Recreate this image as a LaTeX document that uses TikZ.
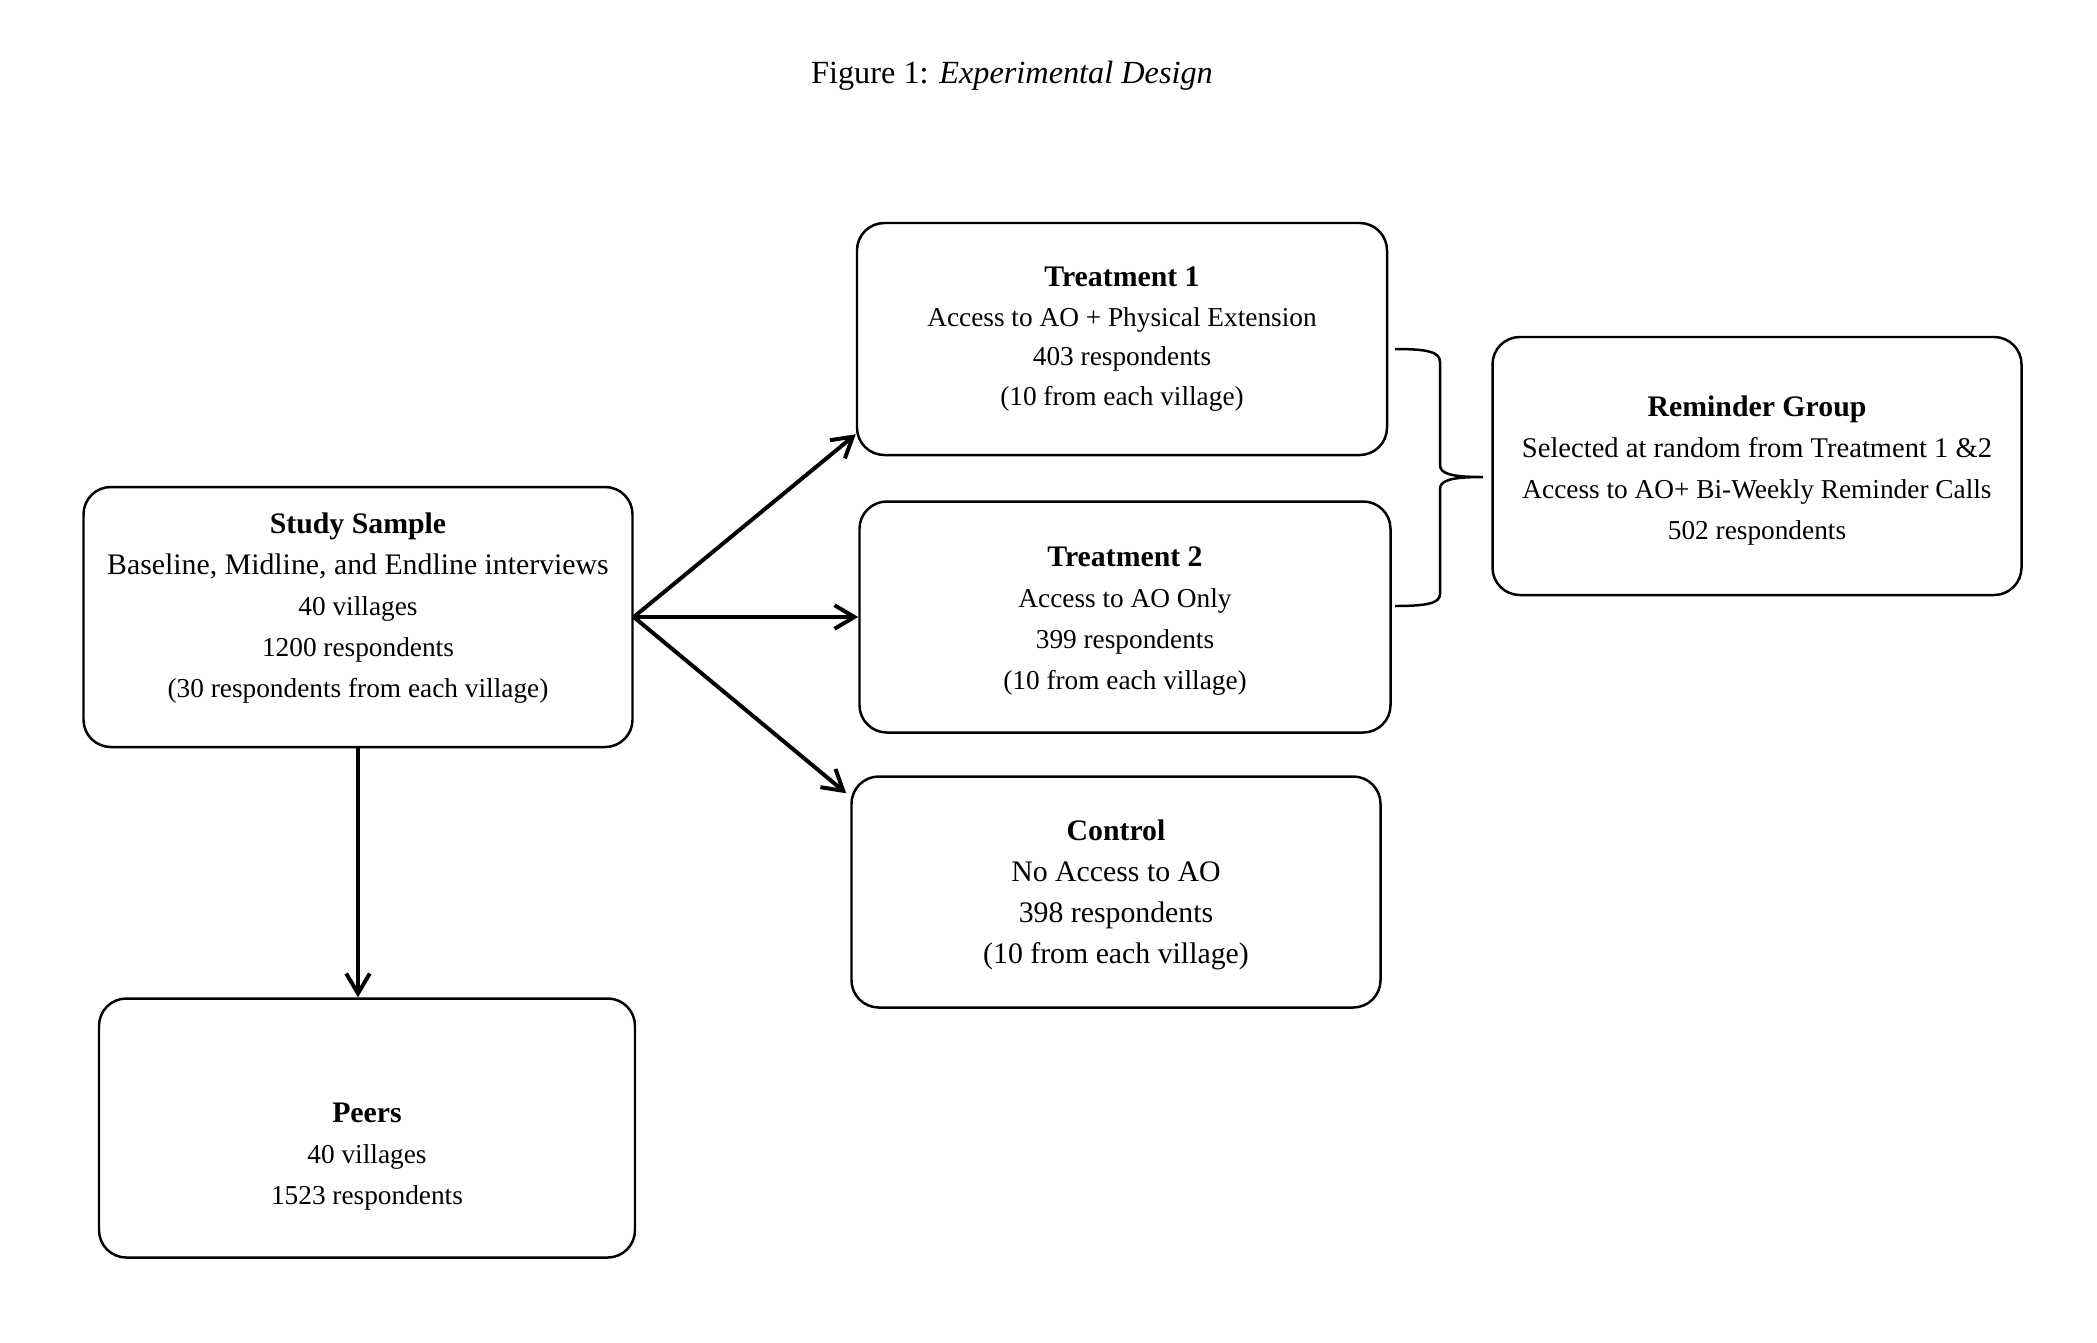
\documentclass[tikz,border=0pt]{standalone}
\usepackage{fontspec}
\setmainfont{Liberation Serif}
\usetikzlibrary{arrows.meta}
\tikzset{%
    % Boxes of the design
    grp/.style      = {draw, line width=1pt, rounded corners=11pt,
    align=center, font=\fontsize{11}{16}\selectfont},
    boxsize/.style 2 args = {minimum width=#1*0.4027pt,
    minimum height=#2*0.4027pt},
    % Text set apart from its box
    txt/.style      = {align=center, font=\fontsize{11}{16.5}\selectfont},
    % Assignment arrows
    assign/.style   = {line width=1.6pt,
    -{Straight Barb[length=8pt,width=9.5pt,line width=1.6pt]}}
}
\newcommand{\grptitle}[1]{{\fontsize{12}{17}\selectfont\bfseries #1}}
\newcommand{\bigline}[1]{{\fontsize{12}{17}\selectfont #1}}
\begin{document}
\begin{tikzpicture}[x=0.4027pt, y=-0.4027pt]
	\useasboundingbox (0,0) rectangle (2097,1343);
	\node[font=\fontsize{13}{15}\selectfont] (fig) at (1012,76)
	{Figure 1: \textit{Experimental Design}};

	\node[grp, boxsize={549}{260}] (study) at (358,617) {};
	\node[txt] (studytxt) at (358,608) {\grptitle{Study Sample}\\
	\bigline{Baseline, Midline, and Endline interviews}\\
	40 villages\\ 1200 respondents\\ (30 respondents from each village)};

	\node[grp, boxsize={530}{232}] (t1) at (1122,339) {\grptitle{Treatment 1}\\
	Access to AO + Physical Extension\\ 403 respondents\\ (10 from each village)};
	\node[grp, boxsize={531}{231}] (t2) at (1125,617) {};
	\node[txt] (t2txt) at (1125,621) {\grptitle{Treatment 2}\\
	Access to AO Only\\ 399 respondents\\ (10 from each village)};
	\node[grp, boxsize={529}{231}] (ctrl) at (1116,892) {};
	\node[txt] (ctrltxt) at (1116,895) {\grptitle{Control}\\
	\bigline{No Access to AO}\\ \bigline{398 respondents}\\ \bigline{(10 from each village)}};
	\node[grp, boxsize={529}{258}] (remind) at (1757,466) {};
	\node[txt] (remindtxt) at (1757,471) {\grptitle{Reminder Group}\\
	{\fontsize{11.5}{17}\selectfont Selected at random from Treatment 1 \&2}\\
	Access to AO+ Bi-Weekly Reminder Calls\\ 502 respondents};

	\node[grp, boxsize={536}{259}] (peers) at (367,1128) {};
	\node[txt] (peerstxt) at (367,1157) {\grptitle{Peers}\\
	40 villages\\ 1523 respondents};

	\draw[assign] (study.east) -- ([shift={(0,-22)}]t1.south west);
	\draw[assign] (study.east) -- (study.east -| t2.west);
	\draw[assign] (study.east) -- ([shift={(-4,18)}]ctrl.north west);
	\draw[assign] (study.south) -- (study.south |- peers.north);

	% brace from the two treatments to the reminder group
	\coordinate (bt) at (1395,349);
	\coordinate (bb) at (1395,606);
	\coordinate (btip) at (1483,477);
	\draw[line width=1pt] (bt) .. controls (1428,349) and (1440,352) .. (1440,362)
	-- (1440,465) .. controls (1440,474) and (1452,477) .. (btip)
	.. controls (1452,477) and (1440,480) .. (1440,489)
	-- (1440,594) .. controls (1440,603) and (1428,606) .. (bb);
\end{tikzpicture}
\end{document}
